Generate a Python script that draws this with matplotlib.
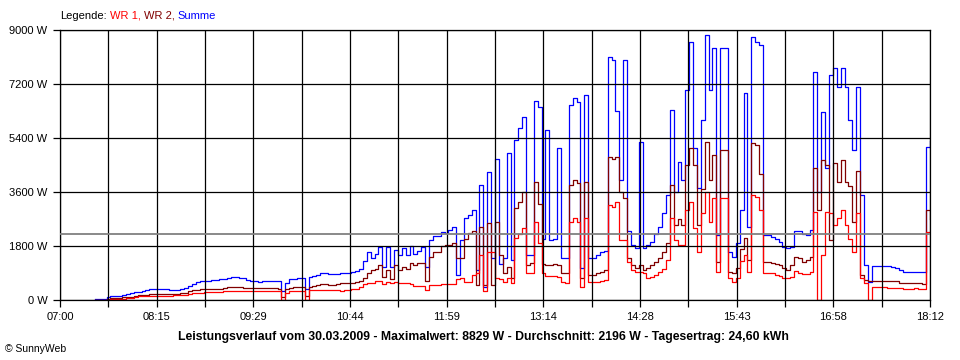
import numpy as np
import matplotlib
matplotlib.use('Agg')
import matplotlib.pyplot as plt

plt.rcParams['font.family'] = ['Liberation Sans', 'DejaVu Sans']

# Messwerte: Minuten ab 07:00, alle 3 Minuten ein Wert (erster Wert 07:27)
t_start = 27
t_step = 3

summe = [
    # 07:27 - 10:12
    20, 20, 25, 90, 145, 150, 150, 180, 200, 230, 255, 280, 310, 320, 355, 360, 380, 380, 370, 330,
    320, 340, 370, 390, 480, 540, 600, 620, 640, 650, 660, 680, 690, 700, 730, 780, 760, 740, 720, 670,
    640, 620, 610, 620, 640, 645, 645, 640, 310, 560, 700, 710, 720, 720, 380, 780,
    # 10:15 - 11:51
    790, 850, 910, 890, 870, 860, 880, 910, 900, 900, 950, 980, 1050, 1300, 1600, 1400, 1550, 1780, 1100, 1780,
    1110, 1670, 1500, 1750, 1500, 1800, 1550, 1650, 1780, 1100, 2000, 2140, 2150,
    # 11:54 - 13:27
    2280, 2250, 2330, 2445, 835, 2000, 2720, 2830, 3000, 1000, 3830, 450, 4280, 1400, 4700, 1200, 1400, 4890, 1350, 5330,
    5720, 6100, 1500, 1500, 6630, 6440, 2050, 5665, 2000, 2050, 5055, 1390,
    # 13:30 - 15:03
    1400, 6500, 6720, 6600, 1055, 6830, 1390, 1390, 1500, 1610, 1650, 8100, 8000, 6300, 4000, 8000, 2300, 1830, 1720, 5275,
    1720, 1830, 1945, 2200, 2450, 2900, 3500, 6330, 3600, 4600, 4000, 7000,
    # 15:06 - 16:39
    8610, 5055, 3720, 6000, 8829, 7000, 8390, 2170, 8390, 8390, 1610, 1445, 1900, 3000, 6890, 2445, 8780, 8610, 8500, 2170,
    2170, 2110, 2050, 1945, 1780, 1720, 1780, 2300, 2300, 2200, 2170, 2350,
    # 16:42 - 18:12
    7610, 3610, 6280, 4390, 7500, 7720, 7110, 7720, 7110, 6000, 5000, 7110, 3500, 1170, 610, 1150, 1150, 1140, 1130, 1120,
    1090, 1080, 1000, 950, 940, 950, 940, 935, 925, 5110, 5300,
]

wr2 = [
    5, 5, 8, 40, 55, 60, 65, 90, 100, 110, 140, 160, 170, 180, 190, 195, 200, 200, 205, 205,
    210, 215, 220, 225, 290, 320, 340, 355, 360, 365, 375, 380, 380, 390, 420, 445, 440, 430, 415, 410,
    395, 390, 390, 390, 390, 390, 390, 380, 100, 370, 410, 420, 420, 420, 150, 430,
    480, 510, 530, 520, 500, 500, 540, 580, 575, 575, 580, 600, 640, 730, 900, 1000, 1050, 1170, 780, 1000,
    700, 1170, 1000, 1100, 1050, 1220, 1170, 1220, 1250, 650, 1440, 1600, 1610,
    1800, 1830, 1830, 1900, 1390, 1390, 2050, 2220, 2300, 500, 2450, 500, 2555, 500, 2590, 1500, 900, 1100, 720, 3055,
    3280, 3600, 1170, 1250, 3945, 3200, 1200, 1170, 1170, 1190, 1170, 900,
    900, 3830, 4000, 3900, 720, 3945, 835, 835, 890, 945, 1000, 4780, 4700, 4780, 3600, 3400, 1390, 1170, 1055, 1170,
    1000, 1055, 1170, 1280, 1390, 1600, 1900, 3830, 2500, 2700, 2500, 4500,
    5055, 4500, 2500, 3700, 5275, 4000, 4830, 1280, 5000, 5000, 945, 890, 1055, 1700, 2055, 1330, 5220, 5160, 4200, 1280,
    1280, 1250, 1200, 1170, 1055, 1000, 1170, 1450, 1390, 1280, 1330, 1440,
    4390, 3000, 4660, 4500, 2000, 4555, 3950, 4660, 3950, 3800, 2600, 4300, 835, 665, 620, 630, 630, 630, 630, 630,
    630, 620, 580, 560, 555, 555, 560, 555, 550, 3000, 2700,
]

wr1 = [
    0, 0, 5, 15, 20, 25, 40, 50, 65, 80, 110, 130, 135, 135, 140, 145, 145, 145, 150, 150,
    155, 160, 165, 165, 200, 220, 230, 245, 255, 265, 270, 270, 280, 290, 300, 300, 300, 300, 300, 300,
    300, 300, 300, 300, 300, 300, 295, 290, 0, 250, 300, 310, 310, 310, 0, 320,
    330, 330, 340, 330, 330, 330, 320, 310, 320, 350, 355, 380, 440, 520, 580, 560, 620, 645, 520, 600,
    560, 600, 560, 580, 560, 520, 480, 470, 470, 330, 500, 500, 500,
    550, 520, 520, 520, 700, 720, 600, 600, 835, 900, 1500, 300, 1600, 1600, 720, 700, 600, 720, 555, 2055,
    2200, 2400, 890, 890, 2610, 1900, 890, 800, 810, 790, 780, 610,
    560, 2610, 2720, 2600, 445, 2720, 610, 610, 610, 630, 660, 3165, 3100, 3280, 2000, 2000, 1280, 1000, 945, 945,
    900, 720, 780, 850, 920, 1050, 1350, 2720, 2000, 1850, 1850, 3000,
    3280, 2400, 1600, 2900, 3610, 2600, 3390, 945, 3390, 3390, 720, 610, 720, 1300, 1500, 945, 3500, 3440, 3000, 890,
    890, 890, 835, 800, 720, 720, 780, 960, 890, 870, 870, 930,
    2940, 0, 1500, 2940, 2900, 2500, 2720, 3000, 2500, 2050, 1600, 2900, 720, 555, 0, 445, 445, 445, 440, 410,
    410, 400, 385, 365, 365, 365, 390, 380, 365, 2280, 2200,
]

durchschnitt = 2196
x_labels = ['07:00', '08:15', '09:29', '10:44', '11:59', '13:14', '14:28', '15:43', '16:58', '18:12']
y_werte = [0, 1800, 3600, 5400, 7200, 9000]
titel = ('Leistungsverlauf vom 30.03.2009 - Maximalwert: 8829 W - '
         'Durchschnitt: 2196 W - Tagesertrag: 24,60 kWh')

t = t_start + t_step * np.arange(len(summe))
t_ende = 672  # 18:12

fig = plt.figure(figsize=(9.6, 3.6), dpi=100)
ax = fig.add_axes([60 / 960, 60 / 360, 870 / 960, 270 / 360])

ax.step(t, summe, where='post', color='#0000ff', lw=0.9, zorder=2)
ax.step(t, wr2, where='post', color='#800000', lw=0.9, zorder=2.1)
ax.step(t, wr1, where='post', color='#ff0000', lw=0.9, zorder=2.2)
ax.axhline(durchschnitt, color='#808080', lw=1.3, zorder=3)

ax.set_xlim(0, t_ende)
ax.set_ylim(0, 9000)
ax.set_xticks(np.linspace(0, t_ende, len(x_labels)))
ax.set_xticklabels(x_labels)
ax.set_xticks(np.linspace(0, t_ende, 2 * len(x_labels) - 1), minor=True)
ax.set_yticks(y_werte)
ax.set_yticklabels([f'{v} W' for v in y_werte])

ax.set_axisbelow(False)
ax.grid(True, which='both', color='black', lw=0.9)
ax.tick_params(axis='both', which='both', direction='out', length=5, width=0.9,
               color='black', labelsize=8, pad=4)
for s in ax.spines.values():
    s.set_color('black')
    s.set_linewidth(0.9)

# Legende oben links, farbige Textteile nebeneinander
renderer = fig.canvas.get_renderer()
x = 60 / 960
for txt, col in [('Legende:', 'black'), ('WR 1,', '#ff0000'), ('WR 2,', '#800000'), ('Summe', '#0000ff')]:
    tx = fig.text(x, 1 - 16 / 360, txt, color=col, fontsize=8, va='center')
    bb = tx.get_window_extent(renderer)
    x = (bb.x1 + 3) / 960

fig.text(483 / 960, 1 - 337 / 360, titel, ha='center', va='center', fontsize=8.8, fontweight='bold')
fig.text(5 / 960, 1 - 349 / 360, '© SunnyWeb', fontsize=7.5, va='center')

fig.savefig('out.png', dpi=100)
